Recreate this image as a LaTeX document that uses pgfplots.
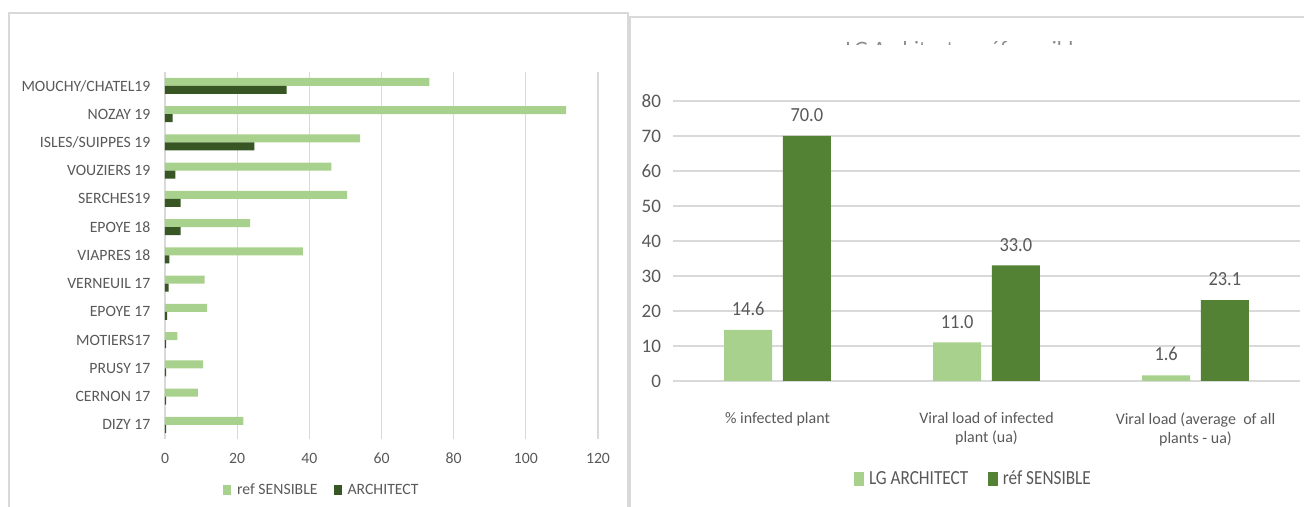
\documentclass[border=0pt]{standalone}
\usepackage{fontspec}
\setmainfont{Carlito}
\newfontfamily\condfont[FakeStretch=0.86]{Carlito}
\newfontfamily\semifont[FakeStretch=0.92]{Carlito}
\usepackage{pgfplots}
\usepackage{pgfplotstable}
\pgfplotsset{compat=1.18}
\definecolor{lgreen}{HTML}{A9D18E}
\definecolor{dgreen}{HTML}{375623}
\definecolor{mgreen}{HTML}{548235}
\definecolor{txt}{HTML}{595959}
\definecolor{gridc}{HTML}{D9D9D9}
\definecolor{framec}{HTML}{D9D9D9}

\pgfplotstableread{
idx ref arch
0 73.3 33.7
1 111.2 2.1
2 54.1 24.8
3 46.1 2.9
4 50.5 4.3
5 23.6 4.3
6 38.2 1.2
7 11.0 1.0
8 11.7 0.6
9 3.4 0.3
10 10.6 0.3
11 9.1 0.3
12 21.7 0.3
}\lefttable

\pgfplotstableread{
idx lg ref
0 14.6 70.0
1 11.0 33.0
2 1.6 23.1
}\righttable

\begin{document}
\begin{tikzpicture}
\useasboundingbox (0,0) rectangle (978pt,380.25pt);
% panel frames
\draw[framec, line width=0.8pt] (6.75pt,0) -- (6.75pt,370.5pt) -- (471pt,370.5pt) -- (471pt,0);
\draw[framec, line width=0.8pt] (472.5pt,0) -- (472.5pt,367.5pt) -- (978pt,367.5pt);
% clipped title of right chart (only the tops of its letters show)
\begin{scope}
\clip (600pt,346.9pt) rectangle (880pt,348.8pt);
\node[font=\fontsize{16.5}{18}\selectfont, text=txt!70, anchor=base] at (723.75pt,337.5pt) {LG Architect vs réf sensible};
\end{scope}

% left chart
\begin{axis}[
  at={(123.75pt,51pt)}, anchor=south west,
  scale only axis, width=324.75pt, height=275.4pt,
  xbar, bar width=6pt,
  xmin=0, xmax=120, ymin=-0.5, ymax=12.5, y dir=reverse,
  xtick={0,20,...,120},
  ytick={0,...,12},
  yticklabels={MOUCHY/CHATEL19, NOZAY 19, ISLES/SUIPPES 19, VOUZIERS 19, SERCHES19, EPOYE 18, VIAPRES 18, VERNEUIL 17, EPOYE 17, MOTIERS17, PRUSY 17, CERNON 17, DIZY 17},
  axis line style={draw=none},
  major tick length=0pt,
  xmajorgrids, grid style={gridc, line width=0.8pt},
  /pgf/number format/assume math mode=true,
  tick label style={font=\fontsize{11.8}{13}\selectfont, text=txt},
  yticklabel style={xshift=-7.4pt},
  xticklabel style={yshift=-7pt},
  legend style={at={(0.363,-0.139)}, anchor=center, draw=none, fill=none,
    legend columns=-1, font=\fontsize{11.8}{13}\selectfont, text=txt,
    /tikz/every even column/.append style={column sep=10pt}},
  legend image code/.code={\draw[#1, draw=none] (0pt,-3.8pt) rectangle (6pt,3.8pt); \path (8.5pt,0pt);},
]
\addplot[fill=lgreen, draw=none, bar shift=3pt] table[x=ref, y=idx] {\lefttable};
\addplot[fill=dgreen, draw=none, bar shift=-3pt] table[x=arch, y=idx] {\lefttable};
\legend{ref SENSIBLE, ARCHITECT}
\end{axis}

% right chart
\begin{axis}[
  at={(504.75pt,94.5pt)}, anchor=south west,
  scale only axis, width=470.25pt, height=210pt,
  ybar, bar width=36pt,
  xmin=-0.5, xmax=2.5, ymin=0, ymax=80,
  ytick={0,10,...,80},
  xtick={0,1,2},
  xticklabels={{\% infected plant}, {Viral load of infected\\plant (ua)}, {Viral load (average\ \ of all\\plants - ua)}},
  axis line style={draw=none},
  major tick length=0pt,
  ymajorgrids, grid style={gridc, line width=0.8pt},
  /pgf/number format/assume math mode=true,
  yticklabel style={font=\fontsize{14.3}{16}\selectfont, text=txt, xshift=-5.5pt},
  xticklabel style={font=\fontsize{12}{14.5}\selectfont, text=txt, align=center, anchor=north, yshift=-20pt},
  nodes near coords,
  every node near coord/.append style={font=\semifont\fontsize{15}{17}\selectfont, text=txt,
    anchor=south, inner sep=0pt, yshift=10.5pt,
    /pgf/number format/fixed, /pgf/number format/fixed zerofill, /pgf/number format/precision=1},
  legend style={at={(0.48,-0.35)}, anchor=center, draw=none, fill=none,
    legend columns=-1, font=\condfont\fontsize{15}{17}\selectfont, text=txt,
    /tikz/every even column/.append style={column sep=13pt}},
  legend image code/.code={\draw[#1, draw=none] (0pt,-5.3pt) rectangle (7.5pt,5.3pt); \path (9pt,0pt);},
]
\addplot[fill=lgreen, draw=none, bar shift=-22pt] table[x=idx, y=lg] {\righttable};
\addplot[fill=mgreen, draw=none, bar shift=22pt] table[x=idx, y=ref] {\righttable};
\legend{LG ARCHITECT, réf SENSIBLE}
\end{axis}
\end{tikzpicture}
\end{document}
